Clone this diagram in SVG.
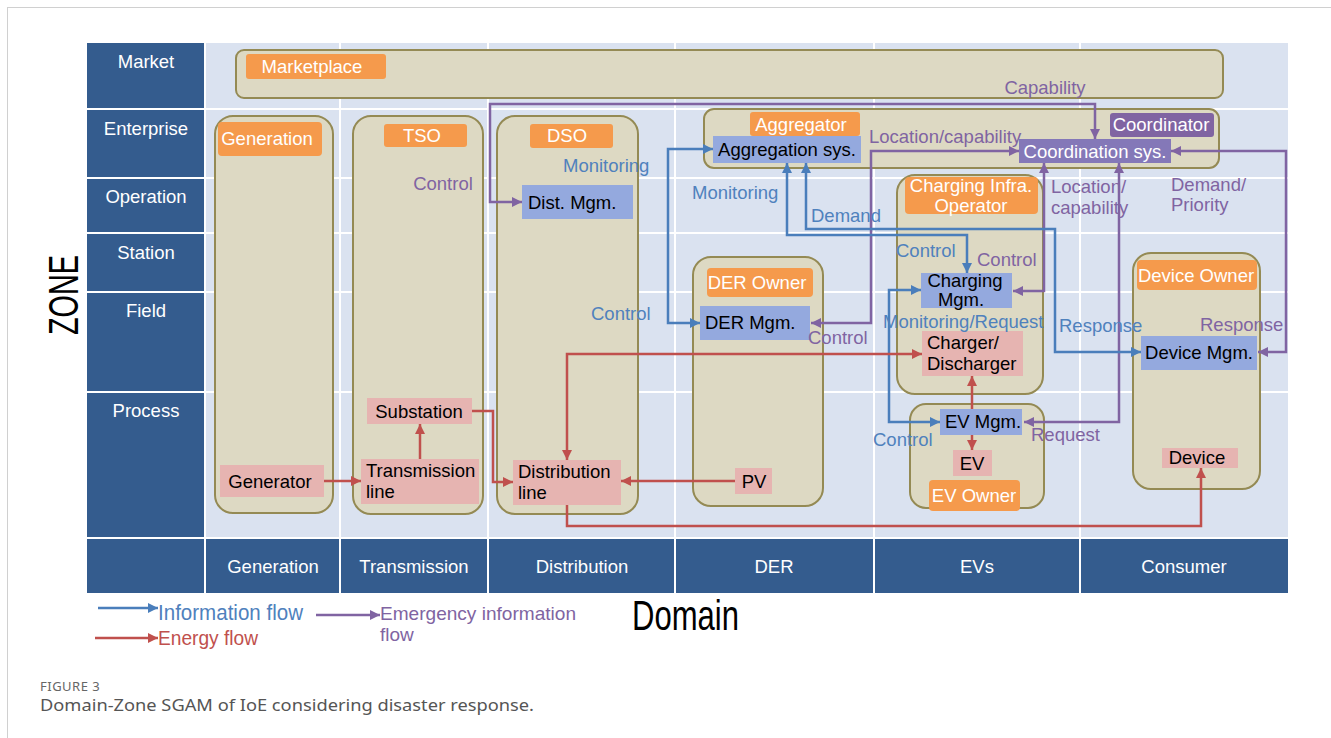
<svg xmlns="http://www.w3.org/2000/svg" width="1331" height="738" viewBox="0 0 1331 738">
<style>
text{font-family:"Liberation Sans",Arial,sans-serif;font-size:18.5px}
.zh{fill:#345C8E}
.sep{stroke:#FFFFFF;stroke-width:2}
.zl{fill:#FFFFFF;text-anchor:middle}
.cont{fill:#DDD9C3;stroke:#948A54;stroke-width:2}
.org{fill:#F59A4C}
.wt{fill:#FFFFFF;text-anchor:middle}
.bn{fill:#94A9DE}
.pn{fill:#E6B4B1}
.bk{fill:#000000}
.mid{text-anchor:middle}
.blue{fill:none;stroke:#4A7EBB;stroke-width:2.5}
.red{fill:none;stroke:#C0504D;stroke-width:2.5}
.pur{fill:none;stroke:#8064A2;stroke-width:2.5}
.tb{fill:#4F81BD}
.tp{fill:#8064A2}
.tr{fill:#C0504D}
</style>
<defs>
<marker id="ab" viewBox="0 0 10 10" refX="10" refY="5" markerWidth="11" markerHeight="10" markerUnits="userSpaceOnUse" orient="auto-start-reverse"><path d="M0,0 L10,5 L0,10 z" fill="#4A7EBB"/></marker>
<marker id="ar" viewBox="0 0 10 10" refX="10" refY="5" markerWidth="11" markerHeight="10" markerUnits="userSpaceOnUse" orient="auto-start-reverse"><path d="M0,0 L10,5 L0,10 z" fill="#C0504D"/></marker>
<marker id="ap" viewBox="0 0 10 10" refX="10" refY="5" markerWidth="11" markerHeight="10" markerUnits="userSpaceOnUse" orient="auto-start-reverse"><path d="M0,0 L10,5 L0,10 z" fill="#8064A2"/></marker>
</defs>
<rect x="0" y="0" width="1331" height="738" fill="#FFFFFF"/>
<rect x="7.5" y="7.5" width="1340" height="760" fill="none" stroke="#D0D0D0" stroke-width="1"/>

<g id="grid">
<rect x="206" y="43" width="1082" height="495" fill="#DAE2F0"/>
<rect class="zh" x="87" y="43" width="118" height="495"/>
<rect class="zh" x="87" y="538" width="1201" height="55"/>
<line class="sep" x1="87" y1="109" x2="1288" y2="109"/>
<line class="sep" x1="87" y1="178" x2="1288" y2="178"/>
<line class="sep" x1="87" y1="233" x2="1288" y2="233"/>
<line class="sep" x1="87" y1="292" x2="1288" y2="292"/>
<line class="sep" x1="87" y1="392" x2="1288" y2="392"/>
<line class="sep" x1="87" y1="538" x2="1288" y2="538"/>
<line class="sep" x1="205" y1="43" x2="205" y2="593"/>
<line class="sep" x1="340" y1="43" x2="340" y2="593"/>
<line class="sep" x1="488" y1="43" x2="488" y2="593"/>
<line class="sep" x1="675" y1="43" x2="675" y2="593"/>
<line class="sep" x1="874" y1="43" x2="874" y2="593"/>
<line class="sep" x1="1080" y1="43" x2="1080" y2="593"/>
<text class="zl" x="146" y="68">Market</text>
<text class="zl" x="146" y="135">Enterprise</text>
<text class="zl" x="146" y="203">Operation</text>
<text class="zl" x="146" y="259">Station</text>
<text class="zl" x="146" y="317">Field</text>
<text class="zl" x="146" y="417">Process</text>
<text class="zl" x="273" y="573">Generation</text>
<text class="zl" x="414" y="573">Transmission</text>
<text class="zl" x="582" y="573">Distribution</text>
<text class="zl" x="774" y="573">DER</text>
<text class="zl" x="977" y="573">EVs</text>
<text class="zl" x="1184" y="573">Consumer</text>
<text x="78" y="335" transform="rotate(-90 78 335)" font-size="42" textLength="80" lengthAdjust="spacingAndGlyphs" style="font-size:42px" fill="#000">ZONE</text>
<text x="632" y="630" style="font-size:42px" textLength="107" lengthAdjust="spacingAndGlyphs" fill="#000">Domain</text>
</g>

<g id="marketplace">
<rect class="cont" x="236" y="50" width="987" height="48" rx="8"/>
<rect class="org" x="246" y="54" width="140" height="25" rx="3"/>
<text class="wt" x="312" y="73">Marketplace</text>
</g>
<g id="generation">
<rect class="cont" x="215" y="116" width="118" height="397" rx="18"/>
<rect class="org" x="218" y="122" width="104" height="34" rx="4"/>
<text class="wt" x="267" y="145">Generation</text>
</g>
<g id="tso">
<rect class="cont" x="353" y="116" width="130" height="398" rx="18"/>
<rect class="org" x="384" y="124" width="83" height="23" rx="3"/>
<text class="wt" x="422" y="142">TSO</text>
</g>
<g id="dso">
<rect class="cont" x="497" y="116" width="141" height="398" rx="18"/>
<rect class="org" x="530" y="124" width="83" height="24" rx="3"/>
<text class="wt" x="567" y="142">DSO</text>
</g>
<g id="aggregator">
<rect class="cont" x="704" y="109" width="515" height="59" rx="10"/>
<rect class="org" x="750" y="112" width="110" height="24" rx="3"/>
<text class="wt" x="801" y="131">Aggregator</text>
</g>
<g id="coordinator">
<rect x="1110" y="113" width="104" height="24" rx="3" fill="#8064A2"/>
<text class="wt" x="1161" y="131">Coordinator</text>
</g>
<g id="der-owner">
<rect class="cont" x="693" y="257" width="130" height="249" rx="18"/>
<rect class="org" x="707" y="268" width="106" height="29" rx="4"/>
<text class="wt" x="757" y="289">DER Owner</text>
</g>
<g id="charging-infra-operator">
<rect class="cont" x="897" y="175" width="146" height="219" rx="18"/>
<rect class="org" x="905" y="177" width="133" height="37" rx="4"/>
<text class="wt" x="971" y="192">Charging Infra.</text>
<text class="wt" x="971" y="212">Operator</text>
</g>
<g id="ev-owner">
<rect class="cont" x="910" y="404" width="134" height="104" rx="16"/>
<rect class="org" x="929" y="480" width="91" height="31" rx="4"/>
<text class="wt" x="974" y="502">EV Owner</text>
</g>
<g id="device-owner">
<rect class="cont" x="1133" y="253" width="127" height="236" rx="18"/>
<rect class="org" x="1137" y="260" width="120" height="30" rx="4"/>
<text class="wt" x="1196" y="282">Device Owner</text>
</g>

<g id="connectors">
<path class="pur" d="M522 202 H490 V104 H1095 V139" marker-start="url(#ap)" marker-end="url(#ap)"/>
<path class="pur" d="M811 323 H871 V151 H1019" marker-start="url(#ap)" marker-end="url(#ap)"/>
<path class="pur" d="M1013 291 H1044 V163" marker-start="url(#ap)" marker-end="url(#ap)"/>
<path class="pur" d="M1024 422 H1119 V163" marker-start="url(#ap)" marker-end="url(#ap)"/>
<path class="pur" d="M1171 151 H1286 V352 H1258" marker-start="url(#ap)" marker-end="url(#ap)"/>
<path class="blue" d="M713 149 H668 V323 H700" marker-start="url(#ab)" marker-end="url(#ab)"/>
<path class="blue" d="M787 163 V235 H967 V273" marker-start="url(#ab)" marker-end="url(#ab)"/>
<path class="blue" d="M806 163 V229 H1055 V352 H1141" marker-start="url(#ab)" marker-end="url(#ab)"/>
<path class="blue" d="M921 290 H889 V422 H940" marker-start="url(#ab)" marker-end="url(#ab)"/>
<path class="red" d="M324 481 H361" marker-end="url(#ar)"/>
<path class="red" d="M420 459 V424" marker-end="url(#ar)"/>
<path class="red" d="M472 411 H493 V482 H513" marker-end="url(#ar)"/>
<path class="red" d="M735 481 H621" marker-end="url(#ar)"/>
<path class="red" d="M567 460 V354 H922" marker-start="url(#ar)" marker-end="url(#ar)"/>
<path class="red" d="M567 505 V526 H1201 V468" marker-end="url(#ar)"/>
<path class="red" d="M972 409 V376" marker-end="url(#ar)"/>
<path class="red" d="M972 435 V450" marker-end="url(#ar)"/>
</g>

<g id="aggregation-sys">
<rect class="bn" x="713" y="136" width="148" height="27"/>
<text class="bk mid" x="787" y="156">Aggregation sys.</text>
</g>
<g id="coordination-sys">
<rect x="1019" y="139" width="152" height="24" fill="#8478B8"/>
<text class="wt" x="1095" y="158">Coordination sys.</text>
</g>
<g id="dist-mgm">
<rect class="bn" x="522" y="185" width="111" height="34"/>
<text class="bk" x="528" y="209">Dist. Mgm.</text>
</g>
<g id="der-mgm">
<rect class="bn" x="700" y="306" width="110" height="34"/>
<text class="bk" x="705" y="329">DER Mgm.</text>
</g>
<g id="charging-mgm">
<rect class="bn" x="921" y="273" width="91" height="35"/>
<text class="bk mid" x="965" y="287">Charging</text>
<text class="bk mid" x="961" y="306">Mgm.</text>
</g>
<g id="charger-discharger">
<rect class="pn" x="922" y="331" width="101" height="45"/>
<text class="bk" x="927" y="349">Charger/</text>
<text class="bk" x="927" y="370">Discharger</text>
</g>
<g id="ev-mgm">
<rect class="bn" x="940" y="409" width="82" height="26"/>
<text class="bk mid" x="983" y="428">EV Mgm.</text>
</g>
<g id="ev">
<rect class="pn" x="953" y="450" width="39" height="26"/>
<text class="bk mid" x="972" y="470">EV</text>
</g>
<g id="device-mgm">
<rect class="bn" x="1141" y="336" width="116" height="34"/>
<text class="bk mid" x="1199" y="359">Device Mgm.</text>
</g>
<g id="device">
<rect class="pn" x="1162" y="448" width="76" height="20"/>
<text class="bk mid" x="1197" y="464">Device</text>
</g>
<g id="pv">
<rect class="pn" x="735" y="468" width="37" height="26"/>
<text class="bk mid" x="754" y="488">PV</text>
</g>
<g id="generator">
<rect class="pn" x="220" y="465" width="104" height="32"/>
<text class="bk mid" x="270" y="488">Generator</text>
</g>
<g id="substation">
<rect class="pn" x="367" y="398" width="105" height="26"/>
<text class="bk mid" x="419" y="418">Substation</text>
</g>
<g id="transmission-line">
<rect class="pn" x="361" y="459" width="118" height="45"/>
<text class="bk" x="366" y="477">Transmission</text>
<text class="bk" x="366" y="498">line</text>
</g>
<g id="distribution-line">
<rect class="pn" x="513" y="460" width="108" height="45"/>
<text class="bk" x="518" y="478">Distribution</text>
<text class="bk" x="518" y="499">line</text>
</g>

<g id="connector-labels">
<text class="tp mid" x="443" y="190">Control</text>
<text class="tb" x="563" y="172">Monitoring</text>
<text class="tb" x="692" y="199">Monitoring</text>
<text class="tb" x="811" y="222">Demand</text>
<text class="tb" x="591" y="320">Control</text>
<text class="tp" x="808" y="344">Control</text>
<text class="tp" x="869" y="143">Location/capability</text>
<text class="tp mid" x="1045" y="94">Capability</text>
<text class="tp" x="1051" y="193">Location/</text>
<text class="tp" x="1051" y="214">capability</text>
<text class="tp" x="1171" y="191">Demand/</text>
<text class="tp" x="1171" y="211">Priority</text>
<text class="tb" x="896" y="257">Control</text>
<text class="tp" x="977" y="266">Control</text>
<text class="tb" x="883" y="328">Monitoring/Request</text>
<text class="tb" x="1059" y="332">Response</text>
<text class="tp" x="1200" y="331">Response</text>
<text class="tp" x="1031" y="441">Request</text>
<text class="tb" x="873" y="446">Control</text>
</g>

<g id="legend">
<path class="blue" d="M98 608 H158" marker-end="url(#ab)"/>
<text class="tb" x="158" y="620" style="font-size:22px" textLength="145" lengthAdjust="spacingAndGlyphs">Information flow</text>
<path class="red" d="M95 638 H158" marker-end="url(#ar)"/>
<text class="tr" x="158" y="645" style="font-size:20px" textLength="100" lengthAdjust="spacingAndGlyphs">Energy flow</text>
<path class="pur" d="M316 615 H380" marker-end="url(#ap)"/>
<text class="tp" x="380" y="620" style="font-size:19px" textLength="196" lengthAdjust="spacingAndGlyphs">Emergency information</text>
<text class="tp" x="380" y="641" style="font-size:19px">flow</text>
</g>

<g id="caption">
<text x="40" y="691" style="font-family:'Noto Sans','Open Sans',sans-serif;font-size:13px;letter-spacing:0.5px" fill="#666666">FIGURE 3</text>
<text x="40" y="711" style="font-family:'Noto Sans','Open Sans',sans-serif;font-size:17px" fill="#555555" textLength="494" lengthAdjust="spacingAndGlyphs">Domain-Zone SGAM of IoE considering disaster response.</text>
</g>
</svg>
